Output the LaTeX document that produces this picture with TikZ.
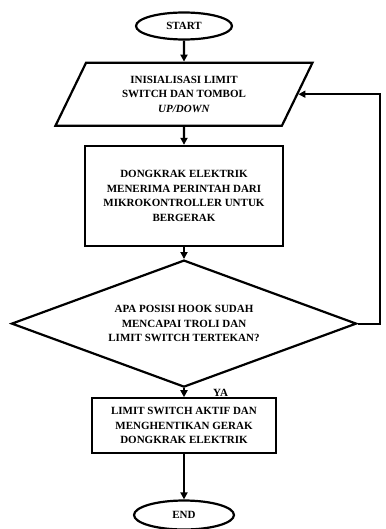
\documentclass[tikz,border=0pt]{standalone}
\usepackage{fontspec}
\setmainfont{Liberation Serif}
\usetikzlibrary{shapes.geometric}
\usetikzlibrary{arrows.meta}
\usetikzlibrary{positioning}
\tikzstyle{terminal} = [draw, ellipse, line width = 2.2pt, inner sep = 0pt, font = \bfseries\fontsize{11}{14.5}\selectfont]
\tikzstyle{io} = [draw, trapezium, trapezium left angle = 50, trapezium right angle = 130, trapezium stretches body, line width = 2.2pt, inner sep = 0pt, align = center, font = \bfseries\fontsize{11}{14.5}\selectfont]
\tikzstyle{block} = [draw, rectangle, line width = 2.2pt, inner sep = 0pt, align = center, font = \bfseries\fontsize{11}{14.5}\selectfont]
\tikzstyle{decision} = [draw, diamond, aspect = 2.7, line width = 2.2pt, inner sep = 0pt, align = center, font = \bfseries\fontsize{11}{14.5}\selectfont]
\tikzstyle{arrow} = [line width = 2.2pt, -{Triangle[length = 7pt, width = 7pt]}]

\begin{document}
\begin{tikzpicture}

		\useasboundingbox (0pt, 0pt) rectangle (385pt, -529pt);

		% Start
		\node[terminal, minimum width = 96pt, minimum height = 27pt] (start) at (184pt, -26pt) {START};

		% Initialisation
		\node[io, below = 21pt of start, minimum width = 257pt, minimum height = 63pt] (init) {INISIALISASI LIMIT \\ SWITCH DAN TOMBOL \\ \textit{UP/DOWN}};

		% Jack receives command
		\node[block, below = 18pt of init, minimum width = 198pt, minimum height = 100pt] (move) {DONGKRAK ELEKTRIK \\ MENERIMA PERINTAH DARI \\ MIKROKONTROLLER UNTUK \\ BERGERAK};

		% Decision
		\node[decision, below = 12pt of move, minimum width = 345pt, minimum height = 127pt] (check) {APA POSISI HOOK SUDAH \\ MENCAPAI TROLI DAN \\ LIMIT SWITCH TERTEKAN?};
		\coordinate[right = 22pt of check.east] (rcheck);

		% Stop jack
		\node[block, below = 9pt of check, minimum width = 184pt, minimum height = 55pt] (halt) {LIMIT SWITCH AKTIF DAN \\ MENGHENTIKAN GERAK \\ DONGKRAK ELEKTRIK};
		\node[above right = 0pt and 28pt of halt.north, inner sep = 1pt, font = \bfseries\fontsize{11}{12}\selectfont] (ya) {YA};

		% End
		\node[terminal, below = 45pt of halt, minimum width = 100pt, minimum height = 29pt] (stop) {END};

		% Connect all nodes defined above
		\draw[arrow] (start) -- (init);
		\draw[arrow] (init) -- (move);
		\draw[arrow] (move) -- (check);
		\draw[arrow] (check) -- (halt);
		\draw[arrow] (halt) -- (stop);
		\draw[arrow] (check.east) -- (rcheck) |- (init.east);

	\end{tikzpicture}
\end{document}
